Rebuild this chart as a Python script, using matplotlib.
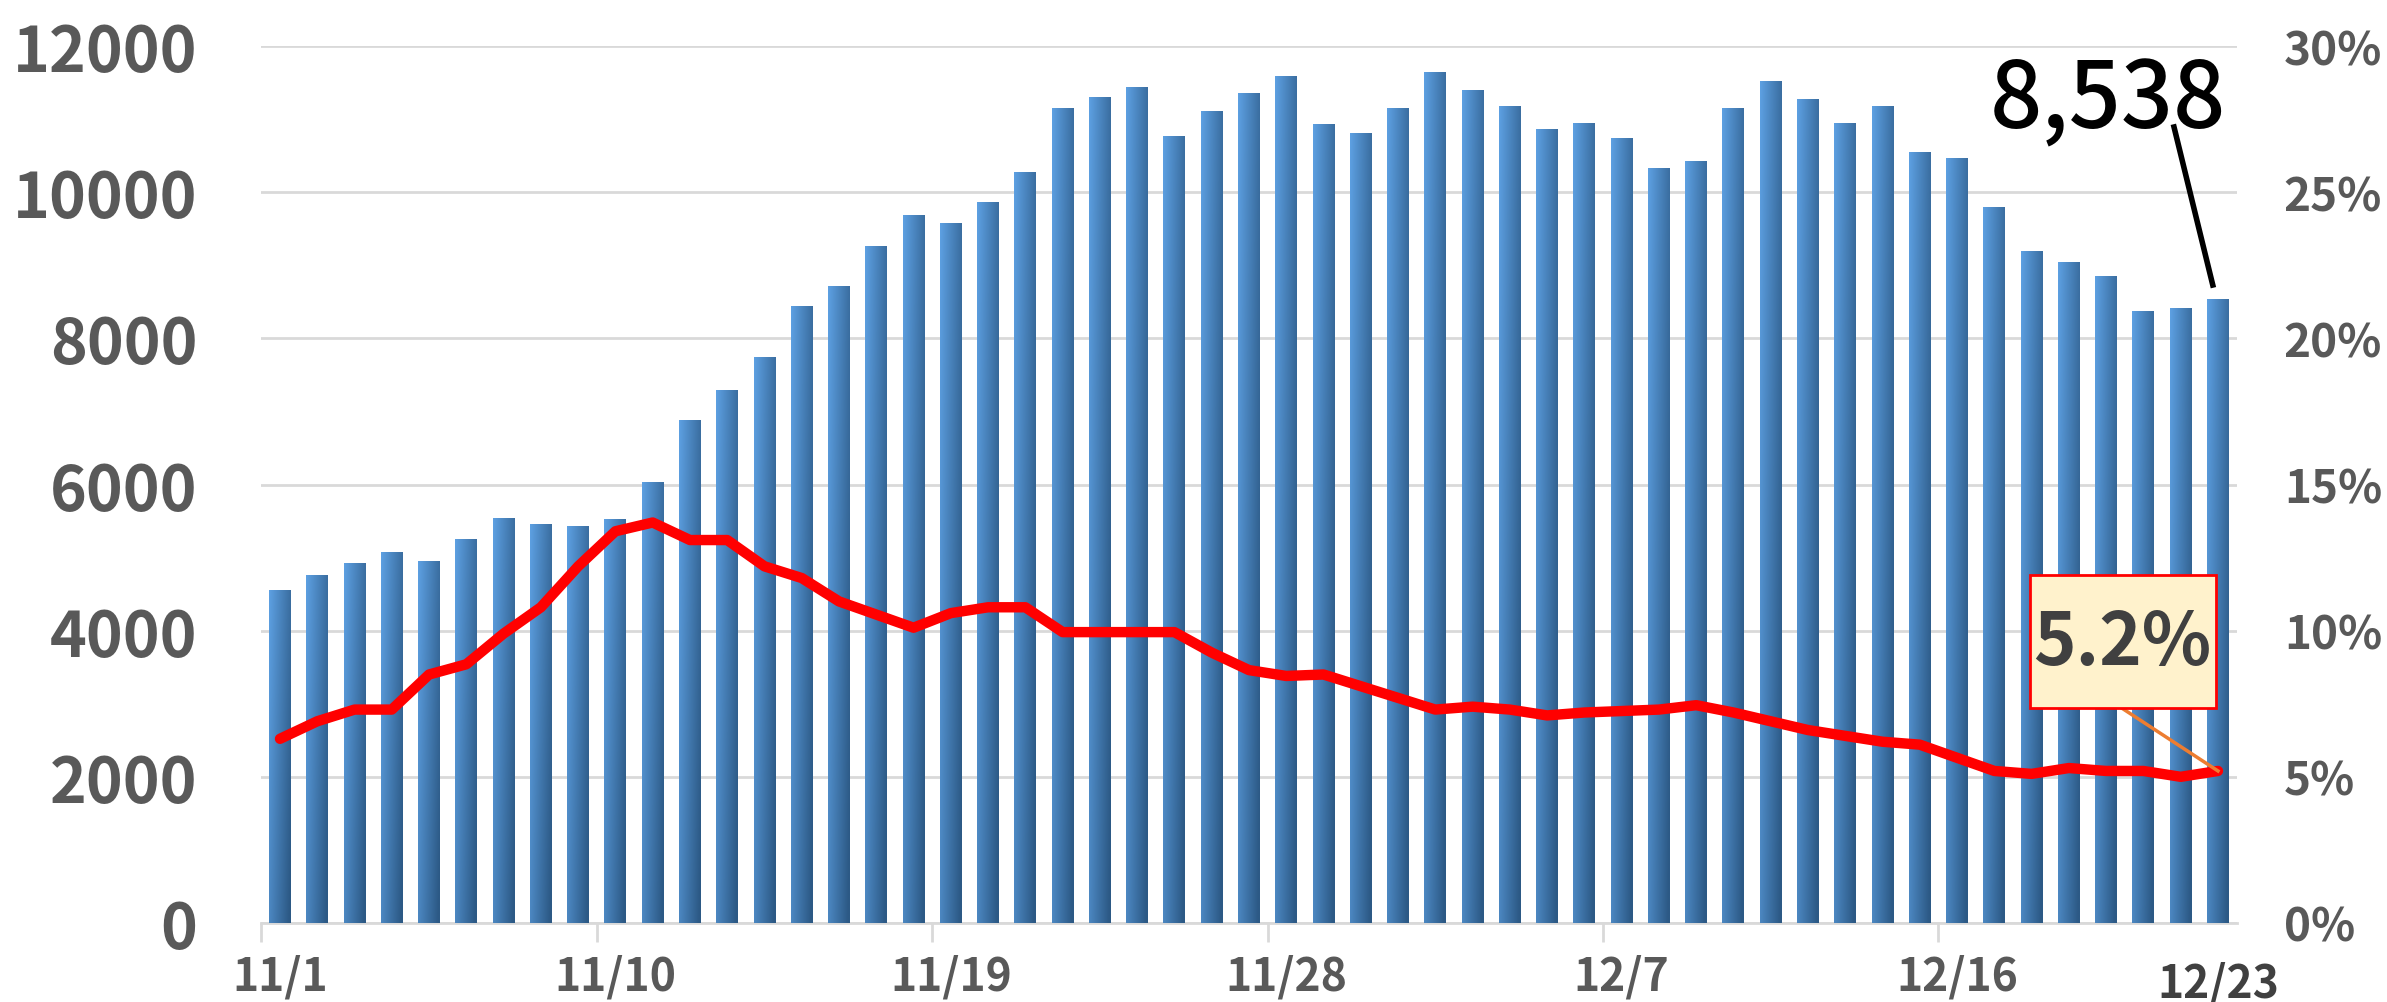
import matplotlib
matplotlib.use("Agg")
import matplotlib.pyplot as plt
import numpy as np
from matplotlib.patches import Rectangle
from matplotlib.colors import to_rgb

# ---- data ----
dates = ["11/1", "11/2", "11/3", "11/4", "11/5", "11/6", "11/7", "11/8", "11/9", "11/10",
         "11/11", "11/12", "11/13", "11/14", "11/15", "11/16", "11/17", "11/18", "11/19", "11/20",
         "11/21", "11/22", "11/23", "11/24", "11/25", "11/26", "11/27", "11/28", "11/29", "11/30",
         "12/1", "12/2", "12/3", "12/4", "12/5", "12/6", "12/7", "12/8", "12/9", "12/10",
         "12/11", "12/12", "12/13", "12/14", "12/15", "12/16", "12/17", "12/18", "12/19", "12/20",
         "12/21", "12/22", "12/23"]
counts = [4550, 4760, 4920, 5070, 4950, 5250, 5540, 5450, 5430, 5520,
          6030, 6880, 7290, 7735, 8435, 8705, 9255, 9675, 9570, 9865,
          10270, 11150, 11290, 11440, 10765, 11110, 11345, 11580, 10925, 10810,
          11150, 11640, 11390, 11170, 10865, 10935, 10740, 10330, 10425, 11150,
          11520, 11265, 10935, 11170, 10550, 10455, 9790, 9185, 9045, 8845,
          8365, 8410, 8538]
rate = [6.3, 6.9, 7.3, 7.3, 8.5, 8.85, 9.9, 10.8, 12.2, 13.4,
        13.7, 13.1, 13.1, 12.2, 11.8, 11.0, 10.55, 10.1, 10.6, 10.8,
        10.8, 9.95, 9.95, 9.95, 9.95, 9.25, 8.65, 8.45, 8.5, 8.1,
        7.7, 7.3, 7.4, 7.3, 7.1, 7.2, 7.25, 7.3, 7.45, 7.2,
        6.9, 6.6, 6.4, 6.2, 6.1, 5.65, 5.2, 5.1, 5.3, 5.2,
        5.2, 5.0, 5.2]
tick_idx = [0, 9, 18, 27, 36, 45]
tick_labels = ["11/1", "11/10", "11/19", "11/28", "12/7", "12/16"]
last_label = "12/23"
count_label = "8,538"
rate_label = "5.2%"

FONT = ["Noto Sans CJK JP", "DejaVu Sans"]
GRAY = "#595959"

fig = plt.figure(figsize=(23.87, 10.03), dpi=100)
ax = fig.add_axes([0.1095, 0.0788, 0.9370 - 0.1095, 0.9531 - 0.0788])
ax2 = ax.twinx()

n = len(counts)
x = np.arange(n)
width = 0.59

# gradient bars
bars = ax.bar(x, counts, width=width, color="none", edgecolor="none", zorder=2)
light_top = np.array(to_rgb("#5DA0E2"))
dark_right = np.array(to_rgb("#2C5985"))
gw, gh = 32, 64
tt = np.linspace(0, 1, gw)[None, :]
ss = np.linspace(0, 1, gh)[:, None]
w = np.clip(0.7 * tt + 0.35 * (1 - ss), 0, 1)
grad = light_top[None, None, :] * (1 - w[..., None]) + dark_right[None, None, :] * w[..., None]
for b in bars:
    x0 = b.get_x()
    h = b.get_height()
    ax.imshow(grad, extent=[x0, x0 + b.get_width(), 0, h], origin="lower",
              aspect="auto", zorder=2, interpolation="bilinear")
ax.set_xlim(-0.5, n - 0.5)
ax.set_ylim(0, 12000)
ax2.set_ylim(0, 30)

# grid
ax.set_yticks(np.arange(0, 12001, 2000))
ax.yaxis.grid(True, color="#D9D9D9", linewidth=2)
ax.set_axisbelow(True)
for s in ["top", "right", "left"]:
    ax.spines[s].set_visible(False)
    ax2.spines[s].set_visible(False)
ax2.spines["bottom"].set_visible(False)
ax.spines["bottom"].set_color("#D9D9D9")
ax.spines["bottom"].set_linewidth(2)
ax.spines["bottom"].set_zorder(1)

# x ticks: marks at boundaries, labels at centers
ax.set_xticks([i - 0.5 for i in tick_idx])
ax.set_xticklabels([])
ax.tick_params(axis="x", which="major", length=14, width=2, color="#D9D9D9")
ax.set_xticks(tick_idx, minor=True)
ax.set_xticklabels(tick_labels, minor=True)
ax.tick_params(axis="x", which="minor", length=0, pad=22, labelsize=32, labelcolor=GRAY)
for t in ax.get_xticklabels(minor=True):
    t.set_fontfamily(FONT)
    t.set_fontweight("bold")

ax.tick_params(axis="y", length=0, pad=46, labelsize=45, labelcolor=GRAY)
for t in ax.get_yticklabels():
    t.set_fontfamily(FONT)
    t.set_fontweight("bold")

ax2.set_yticks(np.arange(0, 31, 5))
ax2.set_yticklabels([f"{v}%" for v in range(0, 31, 5)])
ax2.tick_params(axis="y", length=0, pad=34, labelsize=33, labelcolor=GRAY)
for t in ax2.get_yticklabels():
    t.set_fontfamily(FONT)
    t.set_fontweight("bold")

# last date label
ax.text(n - 1, -0.0835, last_label, transform=ax.get_xaxis_transform(), ha="center",
        va="baseline", fontsize=32, fontweight="bold", color="#404040", family=FONT)

# rate line
ax2.plot(x, rate, color="#FF0000", linewidth=7.5, solid_capstyle="round",
         solid_joinstyle="round", zorder=5)

# count annotation
ax.plot([50.82, 51.86], [10892, 8730], color="black", linewidth=4, zorder=6)
ax.text(52.22, 10890, count_label, ha="right", va="baseline", fontsize=66,
        color="black", family=FONT, fontweight="medium", zorder=6)

# rate annotation
ax2.plot([49.42, n - 1], [7.35, rate[-1]], color="#ED7D31", linewidth=2.5, zorder=6)
ax2.add_patch(Rectangle((46.96, 7.35), 51.95 - 46.96, 11.90 - 7.35, facecolor="#FFF2CC",
                        edgecolor="#FF0000", linewidth=2, zorder=7))
ax2.text(49.42, 9.60, rate_label, ha="center", va="center", fontsize=52,
         fontweight="bold", color="#404040", family=FONT, zorder=8)

fig.savefig("out.png", dpi=100)
